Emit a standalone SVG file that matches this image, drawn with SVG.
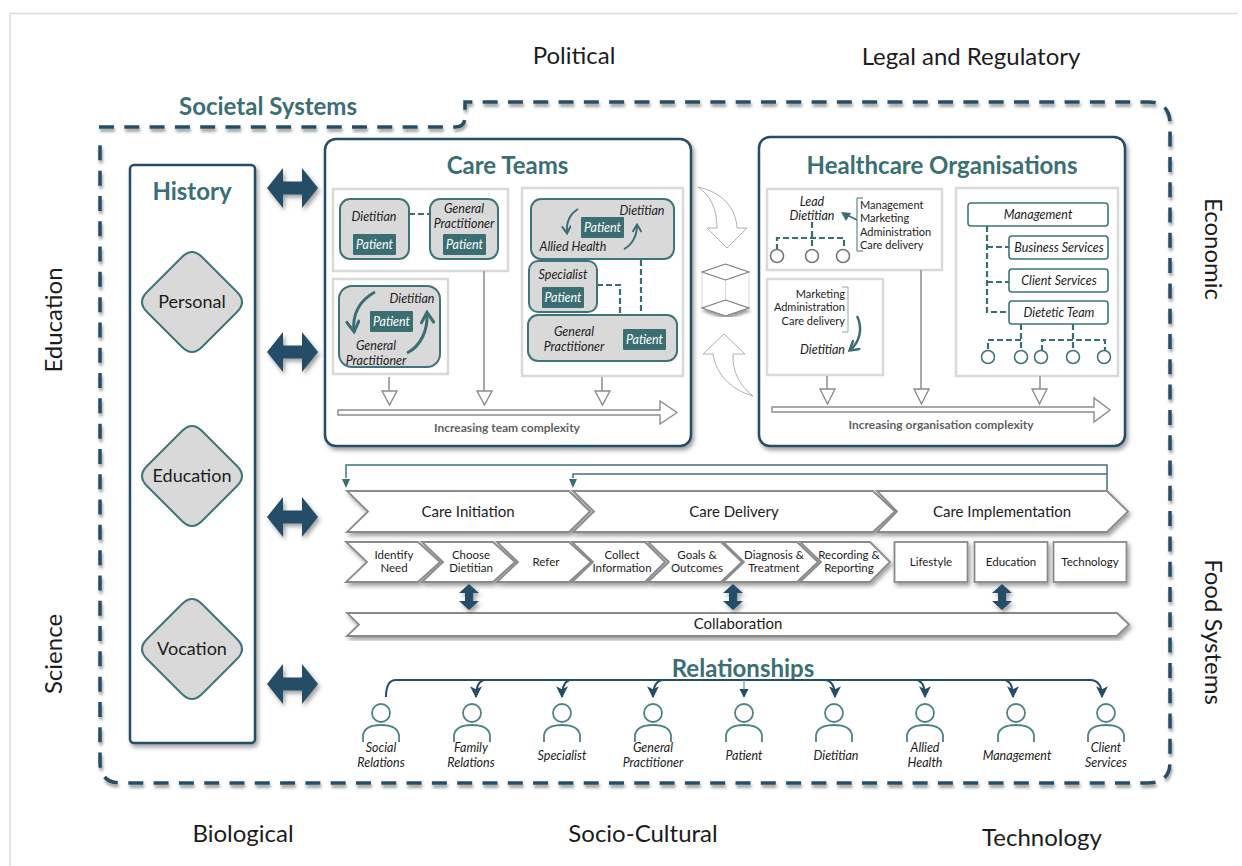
<svg xmlns="http://www.w3.org/2000/svg" width="1242" height="866" viewBox="0 0 1242 866">
<style>
text{font-family:Lato,"Liberation Sans",sans-serif;fill:#1c1c1c;text-anchor:middle}
.ctx{font-size:24px}
.h{font-weight:700;fill:#3a6f73}
.i{font-style:italic;font-size:12.5px}
.s{font-size:11px}
.l{font-size:11.5px}
.pt{font-style:italic;font-size:12.5px;fill:#fff}
.st{font-size:15px}
.cx{font-size:12px;font-weight:700;fill:#5f5f5f}
.node{fill:#d9d9d9;stroke:#3f7478;stroke-width:2}
.pbox{fill:#3b6e72}
.panel{fill:#fff;stroke:#d9d9d9;stroke-width:2.5}
.main{fill:#fff;stroke:#264d68;stroke-width:2.5}
.dash{fill:none;stroke:#3b6e72;stroke-width:2.2;stroke-dasharray:6 3}
.curve{fill:none;stroke:#3b6e72;stroke-width:3}
.thin{fill:none;stroke:#3f7478;stroke-width:1.5}
.org{fill:#fff;stroke:#3f7478;stroke-width:1.6}
.circ{fill:#fff;stroke:#3f7478;stroke-width:1.6}
.gline{fill:none;stroke:#a0a0a0;stroke-width:1.8}
.ghead{fill:#fff;stroke:#8c8c8c;stroke-width:1.4}
.chev{fill:#fff;stroke:#8a8a8a;stroke-width:1.8}
.bend{fill:#fff;stroke:#b0b0b0;stroke-width:1}
.dbl{fill:#264d68}
.rel{fill:none;stroke:#264d68;stroke-width:2}
.pers{fill:none;stroke:#4f8185;stroke-width:1.8}
</style>
<defs>
<filter id="sh" x="-20%" y="-20%" width="140%" height="140%"><feDropShadow dx="2" dy="3" stdDeviation="2" flood-color="#000" flood-opacity=".38"/></filter>
<filter id="ln" x="-5%" y="-5%" width="110%" height="110%"><feDropShadow dx="1" dy="3" stdDeviation="1.5" flood-color="#000" flood-opacity=".4"/></filter>
<marker id="open" viewBox="0 0 10 10" refX="8" refY="5" markerWidth="5" markerHeight="5" orient="auto"><path d="M1,0.5 L8.5,5 L1,9.5" fill="none" stroke="#3b6e72" stroke-width="2"/></marker>
<marker id="rh" viewBox="0 0 10 10" refX="9" refY="5" markerWidth="6" markerHeight="6.500" orient="auto"><path d="M0,0 L10,5 L0,10 L2.5,5Z" fill="#264d68"/></marker>
</defs>
<rect width="1242" height="866" fill="#fff"/>
<path d="M10,866 V13.500 H1238" fill="none" stroke="#dcdcdc" stroke-width="1.5"/>

<g id="context">
<text class="ctx" x="574" y="64">Political</text>
<text class="ctx" x="971" y="65">Legal and Regulatory</text>
<text class="ctx" x="243" y="842">Biological</text>
<text class="ctx" x="643" y="842">Socio-Cultural</text>
<text class="ctx" x="1042" y="846">Technology</text>
<text class="ctx" transform="translate(62,320) rotate(-90)">Education</text>
<text class="ctx" transform="translate(62,654) rotate(-90)">Science</text>
<text class="ctx" transform="translate(1205,249) rotate(90)">Economic</text>
<text class="ctx" transform="translate(1205,632) rotate(90)">Food Systems</text>
</g>

<g id="societal-systems">
<path d="M99,127 H455 Q465,127 465,117 V102 H1148 Q1170,102 1170,124 V762 Q1170,783 1148,783 H121 Q100,783 100,762 V138" fill="none" stroke="#264d68" stroke-width="3.5" stroke-dasharray="15 10.300" filter="url(#ln)"/>
<text class="h" x="268" y="115" font-size="24">Societal Systems</text>
</g>

<g id="history">
<rect class="main" x="130" y="165" width="125" height="578" rx="4" filter="url(#sh)"/>
<text class="h" x="192" y="200" font-size="24">History</text>
</g>
<g id="personal"><path class="node" d="M182,257 Q192,247 202,257 L237,292 Q247,302 237,312 L202,347 Q192,357 182,347 L147,312 Q137,302 147,292Z"/><text x="192" y="308" font-size="18">Personal</text></g>
<g id="education"><path class="node" d="M182,431 Q192,421 202,431 L237,466 Q247,476 237,486 L202,521 Q192,531 182,521 L147,486 Q137,476 147,466Z"/><text x="192" y="482" font-size="18">Education</text></g>
<g id="vocation"><path class="node" d="M182,604 Q192,594 202,604 L237,639 Q247,649 237,659 L202,694 Q192,704 182,694 L147,659 Q137,649 147,639Z"/><text x="192" y="655" font-size="18">Vocation</text></g>

<g id="history-links" filter="url(#sh)">
<path class="dbl" d="M267,188 L283,168 V181.500 H302 V168 L318,188 L302,208 V194.500 H283 V208Z"/>
<path class="dbl" d="M267,352 L283,332 V345.500 H302 V332 L318,352 L302,372 V358.500 H283 V372Z"/>
<path class="dbl" d="M267,517 L283,497 V510.500 H302 V497 L318,517 L302,537 V523.500 H283 V537Z"/>
<path class="dbl" d="M267,684 L283,664 V677.500 H302 V664 L318,684 L302,704 V690.500 H283 V704Z"/>
</g>

<g id="care-teams">
<rect class="main" x="325" y="139" width="366" height="307" rx="11" filter="url(#sh)"/>
<text class="h" x="507.500" y="174" font-size="24">Care Teams</text>
<rect class="panel" x="333" y="189" width="175" height="82"/>
<rect class="panel" x="333" y="279" width="115" height="95"/>
<rect class="panel" x="522" y="188" width="161" height="188"/>

<path class="dash" d="M409,214 H430"/>
<rect class="node" x="340" y="199" width="69" height="60" rx="10"/>
<text class="i" x="374" y="221">Dietitian</text>
<rect class="pbox" x="353" y="234" width="43" height="21" rx="1"/><text class="pt" x="374.500" y="249">Patient</text>
<rect class="node" x="430" y="199" width="68" height="60" rx="10"/>
<text class="i" x="464" y="213">General</text><text class="i" x="464" y="228">Practitioner</text>
<rect class="pbox" x="443" y="234" width="43" height="21" rx="1"/><text class="pt" x="464.500" y="249">Patient</text>

<rect class="node" x="339" y="286" width="101" height="81" rx="13"/>
<text class="i" x="412" y="303">Dietitian</text>
<rect class="pbox" x="370" y="311" width="43" height="21" rx="1"/><text class="pt" x="391.500" y="326">Patient</text>
<text class="i" x="376" y="350">General</text><text class="i" x="376" y="365">Practitioner</text>
<path class="curve" d="M375,292 C360,300 352,314 354,331" marker-end="url(#open)"/>
<path class="curve" d="M407,353 C421,346 428,330 427,313" marker-end="url(#open)"/>

<path class="dash" d="M641,260 V315 M597,285 H620 V315"/>
<rect class="node" x="531" y="199" width="143" height="60" rx="10"/>
<text class="i" x="642" y="215">Dietitian</text>
<rect class="pbox" x="581" y="217" width="43" height="21" rx="1"/><text class="pt" x="602.500" y="232">Patient</text>
<text class="i" x="573" y="251">Allied Health</text>
<path class="curve" style="stroke-width:2" d="M578,209 C570,214 566,222 567,233" marker-end="url(#open)"/>
<path class="curve" style="stroke-width:2" d="M624,249 C632,245 637,236 637,225" marker-end="url(#open)"/>
<rect class="node" x="529" y="261" width="68" height="51" rx="9"/>
<text class="i" x="563" y="279">Specialist</text>
<rect class="pbox" x="542" y="287" width="42" height="21" rx="1"/><text class="pt" x="563" y="302">Patient</text>
<rect class="node" x="528" y="315" width="149" height="46" rx="10"/>
<text class="i" x="574" y="336">General</text><text class="i" x="574" y="351">Practitioner</text>
<rect class="pbox" x="623" y="329" width="43" height="21" rx="1"/><text class="pt" x="644.500" y="344">Patient</text>

<path class="gline" d="M389,377 V391 M484,271 V391 M602,377 V391"/>
<path class="ghead" d="M382,391 H397 L389.500,405Z M477,391 H492 L484.500,405Z M595,391 H610 L602.500,405Z"/>
<path class="ghead" d="M338,410 H660 V401 L677,412.500 L660,424 V415 H338Z"/>
<text class="cx" x="507" y="432">Increasing team complexity</text>
</g>

<g id="transition">
<path class="bend" d="M698,187 C722,192 736,208 737,228 L747,228 L727,248 L707,228 L717,228 C717,208 710,195 698,187Z"/>
<path class="bend" d="M753,396 C732,390 716,375 713,354 L703,354 L724,334 L745,354 L733,354 C732,372 740,386 753,396Z"/>
<path d="M702,272 V308 M725.500,280 V316 M749,272 V308" fill="none" stroke="#d9d9d9" stroke-width="1"/>
<path d="M702,272 L725.500,264 L749,272 L725.500,280Z" fill="#fff" stroke="#777" stroke-width="1.100"/>
<path d="M702,308 L725.500,300 L749,308 L725.500,316Z" fill="#fff" stroke="#777" stroke-width="1.100" filter="url(#ln)"/>
</g>

<g id="healthcare-organisations">
<rect class="main" x="759" y="137" width="366" height="309" rx="11" filter="url(#sh)"/>
<text class="h" x="942" y="174" font-size="24">Healthcare Organisations</text>
<rect class="panel" x="767" y="189" width="175" height="81"/>
<rect class="panel" x="767" y="279" width="116" height="96"/>
<rect class="panel" x="956" y="188" width="162" height="188"/>

<text class="i" x="812" y="205.500">Lead</text><text class="i" x="812" y="220">Dietitian</text>
<path class="dash" d="M812,222 V250 M777,250 V238 H844 V250"/>
<circle class="circ" cx="777" cy="256" r="6.500" style="stroke:#777"/><circle class="circ" cx="812" cy="256" r="6.500" style="stroke:#777"/><circle class="circ" cx="843" cy="256" r="6.500" style="stroke:#777"/>
<path class="thin" d="M863,198 H857 V251 H863" style="stroke-width:1"/>
<text class="s" x="860" y="209" style="text-anchor:start">Management</text>
<text class="s" x="860" y="222" style="text-anchor:start">Marketing</text>
<text class="s" x="860" y="236" style="text-anchor:start">Administration</text>
<text class="s" x="860" y="249" style="text-anchor:start">Care delivery</text>
<path d="M857,220 L845,214" stroke="#3b6e72" stroke-width="1.500" fill="none"/>
<path d="M841,212 L851,213 L846,221Z" fill="#3b6e72"/>

<text class="s" x="845" y="298" style="text-anchor:end">Marketing</text>
<text class="s" x="845" y="311" style="text-anchor:end">Administration</text>
<text class="s" x="845" y="325" style="text-anchor:end">Care delivery</text>
<path class="thin" d="M842,287 H848 V332 H842" style="stroke-width:1;stroke:#8aa"/>
<text class="i" x="845" y="354" style="text-anchor:end">Dietitian</text>
<path class="curve" style="stroke-width:2.500" d="M857,316 C863,328 860,342 850,350" marker-end="url(#open)"/>

<path class="dash" d="M987,226 V312 H1009 M987,247 H1009 M987,282 H1009 M1021,324 V351 M1021,340 H988 V351 M1073,324 V351 M1042,351 V340 H1105 V351"/>
<rect class="org" x="968" y="203" width="140" height="23" rx="3"/><text class="i" x="1038" y="219">Management</text>
<rect class="org" x="1009" y="236" width="99" height="23" rx="3"/><text class="i" x="1059" y="252">Business Services</text>
<rect class="org" x="1009" y="269" width="99" height="23" rx="3"/><text class="i" x="1059" y="285">Client Services</text>
<rect class="org" x="1009" y="301" width="99" height="23" rx="3"/><text class="i" x="1059" y="317">Dietetic Team</text>
<circle class="circ" cx="988" cy="357" r="6.500"/><circle class="circ" cx="1021" cy="357" r="6.500"/><circle class="circ" cx="1041" cy="357" r="6.500"/><circle class="circ" cx="1073" cy="357" r="6.500"/><circle class="circ" cx="1104" cy="357" r="6.500"/>

<path class="gline" d="M827,376 V389 M921,270 V389 M1040,376 V389"/>
<path class="ghead" d="M820,389 H835 L827.500,404Z M914,389 H929 L921.500,404Z M1032,389 H1047 L1039.500,404Z"/>
<path class="ghead" d="M772,407 H1094 V398 L1110,410 L1094,422 V412 H772Z"/>
<text class="cx" x="941" y="429">Increasing organisation complexity</text>
</g>

<g id="feedback">
<path d="M1107,490 V465 H346 V478" fill="none" stroke="#3f7478" stroke-width="1.500"/>
<path d="M1107,474 H573 V478" fill="none" stroke="#3f7478" stroke-width="1.500"/>
<path d="M342,479 H350 L346,488Z M569,479 H577 L573,488Z" fill="#3b6e72"/>
</g>

<g id="care-delivery-stages" filter="url(#sh)">
<path class="chev" d="M347,491 H569 L590,511.500 L569,532 H347 L368,511.500Z"/>
<path class="chev" d="M573,491 H873 L895,511.500 L873,532 H573 L594,511.500Z"/>
<path class="chev" d="M877,491 H1107 L1128,511.500 L1107,532 H877 L897,511.500Z"/>
</g>
<g id="care-initiation"><text class="st" x="468" y="516.500">Care Initiation</text></g>
<g id="care-delivery"><text class="st" x="734" y="516.500">Care Delivery</text></g>
<g id="care-implementation"><text class="st" x="1002" y="516.500">Care Implementation</text></g>

<g id="steps" filter="url(#sh)">
<path class="chev" d="M346,542 H418 L440,562 L418,582 H346 L367,562Z"/>
<path class="chev" d="M422,542 H493 L515,562 L493,582 H422 L443,562Z"/>
<path class="chev" d="M497,542 H569 L591,562 L569,582 H497 L518,562Z"/>
<path class="chev" d="M572,542 H645 L665,562 L645,582 H572 L593,562Z"/>
<path class="chev" d="M648,542 H721 L742,562 L721,582 H648 L669,562Z"/>
<path class="chev" d="M723,542 H797 L818,562 L797,582 H723 L744,562Z"/>
<path class="chev" d="M800,542 H870 L890,562 L870,582 H800 L821,562Z"/>
<rect class="chev" x="894.500" y="542" width="73" height="40"/>
<rect class="chev" x="974.500" y="542" width="73" height="40"/>
<rect class="chev" x="1053.500" y="542" width="73" height="40"/>
</g>
<g id="step-labels">
<text class="l" x="394" y="559">Identify</text><text class="l" x="394" y="572">Need</text>
<text class="l" x="471" y="559">Choose</text><text class="l" x="471" y="572">Dietitian</text>
<text class="l" x="546" y="566">Refer</text>
<text class="l" x="622" y="559">Collect</text><text class="l" x="622" y="572">Information</text>
<text class="l" x="697" y="559">Goals &amp;</text><text class="l" x="697" y="572">Outcomes</text>
<text class="l" x="774" y="559">Diagnosis &amp;</text><text class="l" x="774" y="572">Treatment</text>
<text class="l" x="849" y="559">Recording &amp;</text><text class="l" x="849" y="572">Reporting</text>
<text class="l" x="931" y="566">Lifestyle</text>
<text class="l" x="1011" y="566">Education</text>
<text class="l" x="1090" y="566">Technology</text>
</g>

<g id="collaboration">
<path class="chev" d="M347,613 H1117 L1129,624.500 L1117,636 H347 L359,624.500Z" filter="url(#sh)"/>
<text class="st" x="738" y="629">Collaboration</text>
</g>

<g id="collaboration-links" filter="url(#sh)">
<path class="dbl" d="M469,584 L479,593 H473 V601 H479 L469,610 L459,601 H465 V593 H459Z"/>
<path class="dbl" d="M733,584 L743,593 H737 V601 H743 L733,610 L723,601 H729 V593 H723Z"/>
<path class="dbl" d="M1002,584 L1012,593 H1006 V601 H1012 L1002,610 L992,601 H998 V593 H992Z"/>
</g>

<g id="relationships">
<text class="h" x="743" y="677" font-size="24">Relationships</text>
<path class="rel" d="M386,697 Q386,680 396,680 H1090 Q1102,680 1102,697" marker-end="url(#rh)"/>
<path class="rel" d="M484,680 Q476,682 476,697" marker-end="url(#rh)"/>
<path class="rel" d="M570,680 Q562,682 562,697" marker-end="url(#rh)"/>
<path class="rel" d="M662,680 Q653,682 653,697" marker-end="url(#rh)"/>
<path d="M744,680 V690" stroke="#6f8fa3" stroke-width="1.200" fill="none"/><path d="M739.500,689 H748.500 L744,698Z" fill="#264d68"/>
<path class="rel" d="M826,680 Q835,682 835,697" marker-end="url(#rh)"/>
<path class="rel" d="M917,680 Q925,682 925,697" marker-end="url(#rh)"/>
<path class="rel" d="M1005,680 Q1013,682 1013,697" marker-end="url(#rh)"/>
</g>

<g id="person-social"><circle class="pers" cx="381" cy="713" r="9"/><path class="pers" d="M363,742 V735 Q365,725 381,725 Q397,725 399,735 V742"/><text class="i" x="381" y="752">Social</text><text class="i" x="381" y="767">Relations</text></g>
<g id="person-family"><circle class="pers" cx="472" cy="713" r="9"/><path class="pers" d="M454,742 V735 Q456,725 472,725 Q488,725 490,735 V742"/><text class="i" x="471" y="752">Family</text><text class="i" x="471" y="767">Relations</text></g>
<g id="person-specialist"><circle class="pers" cx="562" cy="713" r="9"/><path class="pers" d="M544,742 V735 Q546,725 562,725 Q578,725 580,735 V742"/><text class="i" x="562" y="760">Specialist</text></g>
<g id="person-gp"><circle class="pers" cx="653" cy="713" r="9"/><path class="pers" d="M635,742 V735 Q637,725 653,725 Q669,725 671,735 V742"/><text class="i" x="653" y="752">General</text><text class="i" x="653" y="767">Practitioner</text></g>
<g id="person-patient"><circle class="pers" cx="744" cy="713" r="9"/><path class="pers" d="M726,742 V735 Q728,725 744,725 Q760,725 762,735 V742"/><text class="i" x="744" y="760">Patient</text></g>
<g id="person-dietitian"><circle class="pers" cx="834" cy="713" r="9"/><path class="pers" d="M816,742 V735 Q818,725 834,725 Q850,725 852,735 V742"/><text class="i" x="836" y="760">Dietitian</text></g>
<g id="person-allied"><circle class="pers" cx="925" cy="713" r="9"/><path class="pers" d="M907,742 V735 Q909,725 925,725 Q941,725 943,735 V742"/><text class="i" x="925" y="752">Allied</text><text class="i" x="925" y="767">Health</text></g>
<g id="person-management"><circle class="pers" cx="1016" cy="713" r="9"/><path class="pers" d="M998,742 V735 Q1000,725 1016,725 Q1032,725 1034,735 V742"/><text class="i" x="1017" y="760">Management</text></g>
<g id="person-client"><circle class="pers" cx="1106" cy="713" r="9"/><path class="pers" d="M1088,742 V735 Q1090,725 1106,725 Q1122,725 1124,735 V742"/><text class="i" x="1106" y="752">Client</text><text class="i" x="1106" y="767">Services</text></g>
</svg>
